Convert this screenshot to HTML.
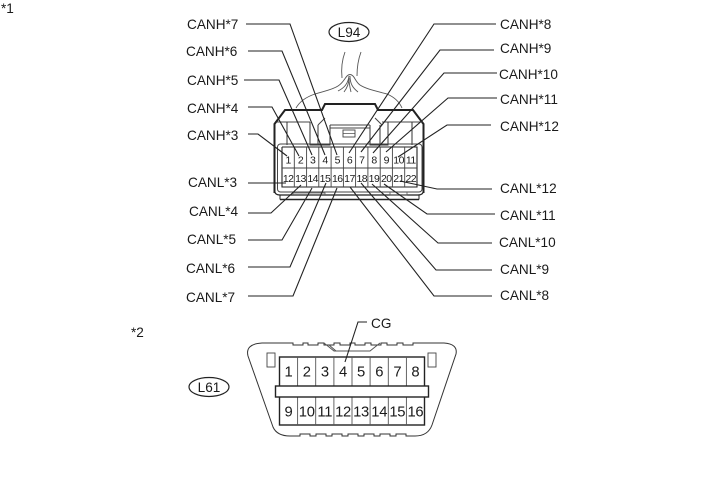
<!DOCTYPE html>
<html>
<head>
<meta charset="utf-8">
<style>
html,body{margin:0;padding:0;background:#fff;}
svg{display:block;}
text{font-family:"Liberation Sans",Arial,sans-serif;fill:#1a1a1a;}
.l{font-size:13.6px;}
.n{font-size:10.5px;text-anchor:middle;letter-spacing:-0.5px;}
.m{font-size:14.8px;text-anchor:middle;letter-spacing:-0.3px;}
</style>
</head>
<body>
<svg width="713" height="481" viewBox="0 0 713 481" xmlns="http://www.w3.org/2000/svg">
<rect width="713" height="481" fill="#fff"/>

<!-- wires -->
<g fill="none" stroke="#555" stroke-width="0.9">
<path d="M296 108C300 101 306 97 315 94C324 91 332 90 338 86C343 83 345 78 347 76C349 74 351 74 353 76C355 78 356 82 360 85C366 89 376 91 387 94C394 97 399 101 402 108"/>
<path d="M345 52C342 60 341 68 342 78M361 52C358 60 357 68 357 76"/>
<path d="M338 91C344 88 348 84 349 76M344 92C347 88 349 84 349 78M351 92C350 88 349 84 349 78M358 92C353 88 350 84 350 76"/>
</g>

<!-- L94 connector body -->
<g fill="none" stroke="#222">
<path d="M274.500 193V124L285 110H322L325 104H375L378 110H413L423.500 124V193" stroke-width="2"/>
<path d="M274.500 190Q274.500 195 280 195H418Q423.500 195 423.500 190" stroke-width="1.200"/>
<path d="M280 199.500H419" stroke-width="1.500"/>
<path d="M280 195V199.500M419 195V199.500" stroke-width="1"/>
<path d="M277 122H310M382 122H422" stroke-width="1" stroke="#444"/>
<path d="M318 125L325 118M375 118L382 125" stroke-width="1" stroke="#444"/>
<path d="M287 122V145M310 122V145H330V125M318 125V145" stroke-width="1" stroke="#333"/>
<path d="M370 125V145H388V122M380 125V145M412 122V145" stroke-width="1" stroke="#333"/>
<path d="M330 125H370M330 128H370" stroke-width="0.900" stroke="#444"/>
<rect x="343" y="130" width="12" height="7" stroke-width="0.900" stroke="#444"/>
<path d="M343 133.500H355" stroke-width="0.700" stroke="#444"/>
<rect x="277.500" y="144" width="144.500" height="48" rx="3" stroke-width="1" stroke="#444"/>
<path d="M282 147V187H417V147H282" stroke-width="1.100"/>
<path d="M282 168H417" stroke-width="1" stroke="#444"/>
<path d="M294.300 147V187M306.600 147V187M318.800 147V187M331.100 147V187M343.400 147V187M355.600 147V187M367.900 147V187M380.200 147V187M392.400 147V187M404.700 147V187" stroke-width="0.900" stroke="#444"/>
<path d="M293 192V195M293 193H325V195M390 192V195H407V192" stroke-width="0.800" stroke="#555"/>
</g>
<g>
<text class="n" x="288.200" y="163.500">1</text><text class="n" x="300.500" y="163.500">2</text><text class="n" x="312.700" y="163.500">3</text><text class="n" x="325" y="163.500">4</text><text class="n" x="337.300" y="163.500">5</text><text class="n" x="349.500" y="163.500">6</text><text class="n" x="361.800" y="163.500">7</text><text class="n" x="374" y="163.500">8</text><text class="n" x="386.300" y="163.500">9</text><text class="n" x="398.600" y="163.500">10</text><text class="n" x="410.800" y="163.500">11</text>
<text class="n" x="288.200" y="182">12</text><text class="n" x="300.500" y="182">13</text><text class="n" x="312.700" y="182">14</text><text class="n" x="325" y="182">15</text><text class="n" x="337.300" y="182">16</text><text class="n" x="349.500" y="182">17</text><text class="n" x="361.800" y="182">18</text><text class="n" x="374" y="182">19</text><text class="n" x="386.300" y="182">20</text><text class="n" x="398.600" y="182">21</text><text class="n" x="410.800" y="182">22</text>
</g>

<!-- L94 leaders -->
<g fill="none" stroke="#222" stroke-width="1.100">
<path d="M246 24H290L337 155"/>
<path d="M248 51H282L325 155"/>
<path d="M244 80H279L312 155"/>
<path d="M248 107H272L299 156"/>
<path d="M248 134H258L287 156"/>
<path d="M496 24H434L349 153"/>
<path d="M494 50H440L361 152"/>
<path d="M497 73H444L373 153"/>
<path d="M497 98H448L386 152"/>
<path d="M491 125H447L398 157"/>
<path d="M248 183H286"/>
<path d="M248 213H271L301 185"/>
<path d="M248 240H282L312 188"/>
<path d="M248 267H290L326 183"/>
<path d="M248 296H293L337 188"/>
<path d="M492 189H437L400 181"/>
<path d="M495 214H427L384 184"/>
<path d="M492 243H438L372 184"/>
<path d="M492 270H436L361 183"/>
<path d="M492 296H434L350 187"/>
</g>

<!-- labels -->
<g>
<text class="l" x="187" y="29">CANH*7</text>
<text class="l" x="186" y="56">CANH*6</text>
<text class="l" x="187" y="85">CANH*5</text>
<text class="l" x="187" y="113">CANH*4</text>
<text class="l" x="187" y="140">CANH*3</text>
<text class="l" x="500" y="29">CANH*8</text>
<text class="l" x="500" y="53">CANH*9</text>
<text class="l" x="499" y="79">CANH*10</text>
<text class="l" x="500" y="104">CANH*11</text>
<text class="l" x="500" y="131">CANH*12</text>
<text class="l" x="188" y="187">CANL*3</text>
<text class="l" x="189" y="216">CANL*4</text>
<text class="l" x="187" y="244">CANL*5</text>
<text class="l" x="186" y="273">CANL*6</text>
<text class="l" x="186" y="302">CANL*7</text>
<text class="l" x="500" y="193">CANL*12</text>
<text class="l" x="500" y="220">CANL*11</text>
<text class="l" x="499" y="247">CANL*10</text>
<text class="l" x="500" y="274">CANL*9</text>
<text class="l" x="500" y="300">CANL*8</text>
<text class="l" x="1" y="13">*1</text>
<text class="l" x="131" y="337">*2</text>
<text class="l" x="371" y="328">CG</text>
</g>

<ellipse cx="349" cy="32" rx="20" ry="9.500" fill="#fff" stroke="#222" stroke-width="1.200"/>
<text class="l" x="349" y="37" text-anchor="middle">L94</text>
<ellipse cx="209" cy="387" rx="20" ry="9.500" fill="#fff" stroke="#222" stroke-width="1.200"/>
<text class="l" x="209" y="392" text-anchor="middle">L61</text>

<!-- L61 connector -->
<g fill="none">
<path d="M262 343H293V345H303V343H308V345H318V343H324V345H334V343H340V345H350V343H355V345H365V343H371V345H381V343H387V345H397V343H403V345H413V343H444Q458 344 456 354L432 425Q428 436 415 436H406V434H396V436H390V434H380V436H374V434H364V436H358V434H348V436H342V434H332V436H326V434H316V436H310V434H300V436H290Q277 436 273 427L248 356Q245 344 262 343Z" stroke="#333" stroke-width="1"/>
<path d="M324 343L334 351H370L380 343M329 345L336 351" stroke="#555" stroke-width="1"/>
<rect x="267" y="353" width="8" height="14" stroke="#444" stroke-width="0.900"/>
<rect x="428" y="353" width="8" height="14" stroke="#444" stroke-width="0.900"/>
<rect x="279.500" y="357" width="145" height="68" stroke="#222" stroke-width="1.400"/>
<path d="M297.600 357V425M315.700 357V425M333.900 357V425M352 357V425M370.100 357V425M388.300 357V425M406.400 357V425" stroke="#555" stroke-width="0.900"/>
<rect x="275.500" y="386" width="153" height="11" fill="#fff" stroke="#222" stroke-width="1.400"/>
</g>
<path d="M367 322H358L345 362" fill="none" stroke="#222" stroke-width="1.100"/>
<g>
<text class="m" x="288.500" y="376.500">1</text><text class="m" x="306.700" y="376.500">2</text><text class="m" x="324.800" y="376.500">3</text><text class="m" x="343" y="376.500">4</text><text class="m" x="361" y="376.500">5</text><text class="m" x="379.200" y="376.500">6</text><text class="m" x="397.300" y="376.500">7</text><text class="m" x="415.400" y="376.500">8</text>
<text class="m" x="288.500" y="416.500">9</text><text class="m" x="306.700" y="416.500">10</text><text class="m" x="324.800" y="416.500">11</text><text class="m" x="343" y="416.500">12</text><text class="m" x="361" y="416.500">13</text><text class="m" x="379.200" y="416.500">14</text><text class="m" x="397.300" y="416.500">15</text><text class="m" x="415.400" y="416.500">16</text>
</g>
</svg>
</body>
</html>
